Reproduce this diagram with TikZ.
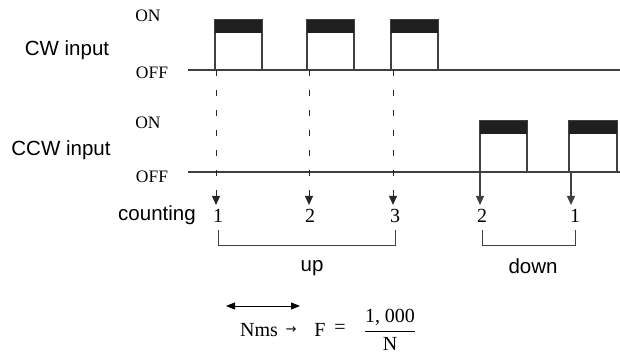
\documentclass[tikz,border=0pt]{standalone}
\usepackage{fontspec}
\setmainfont{Liberation Serif}
\setsansfont{Liberation Sans}
\newfontfamily\arrowfont{DejaVu Sans}
\usetikzlibrary{arrows.meta, positioning}

\begin{document}
\begin{tikzpicture}[x=1pt, y=-1pt, thick, >={Triangle[width=8pt,length=9pt]},
    sigtext/.style={font=\sffamily\fontsize{20.5}{22}\selectfont},
    level/.style={font=\fontsize{17.5}{19}\selectfont},
    countnum/.style={font=\fontsize{20}{22}\selectfont, inner sep=1pt},
    wave/.style={line width=1.3pt, black!75},
    band/.style={fill=black!88},
    guide/.style={line width=1pt, black!85, dash pattern=on 6pt off 14pt},
    bracket/.style={line width=1pt, black!75}]

    \useasboundingbox (0,0) rectangle (620,355);

    % Nodes
    \node (cw) [sigtext] at (67,50) {CW input};
    \node (ccw) [sigtext] at (61,150) {CCW input};
    \node (on1) [level] at (148,16) {ON};
    \node (off1) [level] at (152,73) {OFF};
    \node (on2) [level] at (148,123) {ON};
    \node (off2) [level] at (152,177) {OFF};
    \node (cnt) [sigtext] at (157,215) {counting};
    \node (n1) [countnum] at (218,216) {1};
    \node (n2) [countnum] at (310,216) {2};
    \node (n3) [countnum] at (395,216) {3};
    \node (n4) [countnum] at (482,216) {2};
    \node (n5) [countnum] at (575,216) {1};
    \node (up) [sigtext] at (312,268) {up};
    \node (down) [sigtext] at (533,266) {down};
    \node (nms) [countnum] at (259,330) {Nms};
    \node (to) [font=\arrowfont\fontsize{13}{15}\selectfont] at (291,330) {→};
    \node (fvar) [countnum] at (320,330) {F};
    \node (eq) [countnum] at (340,329) {=};
    \node (frac) [countnum] at (390,330) {\(\displaystyle\frac{\hbox{1, 000}}{\hbox{N}}\)};

    % CW waveform
    \draw[wave] (188,70) -- (620,70);
    \draw[wave, fill=white] (215,20) rectangle (262,70);
    \draw[wave, fill=white] (307,20) rectangle (354,70);
    \draw[wave, fill=white] (391,20) rectangle (438,70);
    \fill[band] (215,20) rectangle (262,33);
    \fill[band] (307,20) rectangle (354,33);
    \fill[band] (391,20) rectangle (438,33);
    \coordinate (cw1) at (216,70);
    \coordinate (cw2) at (309,70);
    \coordinate (cw3) at (393,70);

    % CCW waveform
    \draw[wave] (188,172) -- (620,172);
    \draw[wave, fill=white] (480,121) rectangle (527,172);
    \draw[wave, fill=white] (569,121) rectangle (617,172);
    \fill[band] (480,121) rectangle (527,134);
    \fill[band] (569,121) rectangle (617,134);
    \coordinate (ccw1) at (480,172);
    \coordinate (ccw2) at (571,172);

    % Links
    \draw[guide, ->, shorten >=3pt] (cw1) -- (cw1 |- n1.north);
    \draw[guide, ->, shorten >=3pt] (cw2) -- (cw2 |- n2.north);
    \draw[guide, ->, shorten >=3pt] (cw3) -- (cw3 |- n3.north);
    \draw[wave, ->, shorten >=3pt] (ccw1) -- (ccw1 |- n4.north);
    \draw[wave, ->, shorten >=3pt] (ccw2) -- (ccw2 |- n5.north);

    % Brackets
    \draw[bracket] ([yshift=-6pt]n1.south) -- ++(0,15) -| ([yshift=-6pt]n3.south);
    \draw[bracket] ([yshift=-6pt]n4.south) -- ++(0,15) -| ([yshift=-6pt]n5.south);

    % Period
    \coordinate (ta) at (226,306);
    \coordinate (tb) at (300,306);
    \draw[<->, line width=1pt, >={Triangle[width=7pt,length=9pt]}] (ta) -- (tb);
\end{tikzpicture}
\end{document}
